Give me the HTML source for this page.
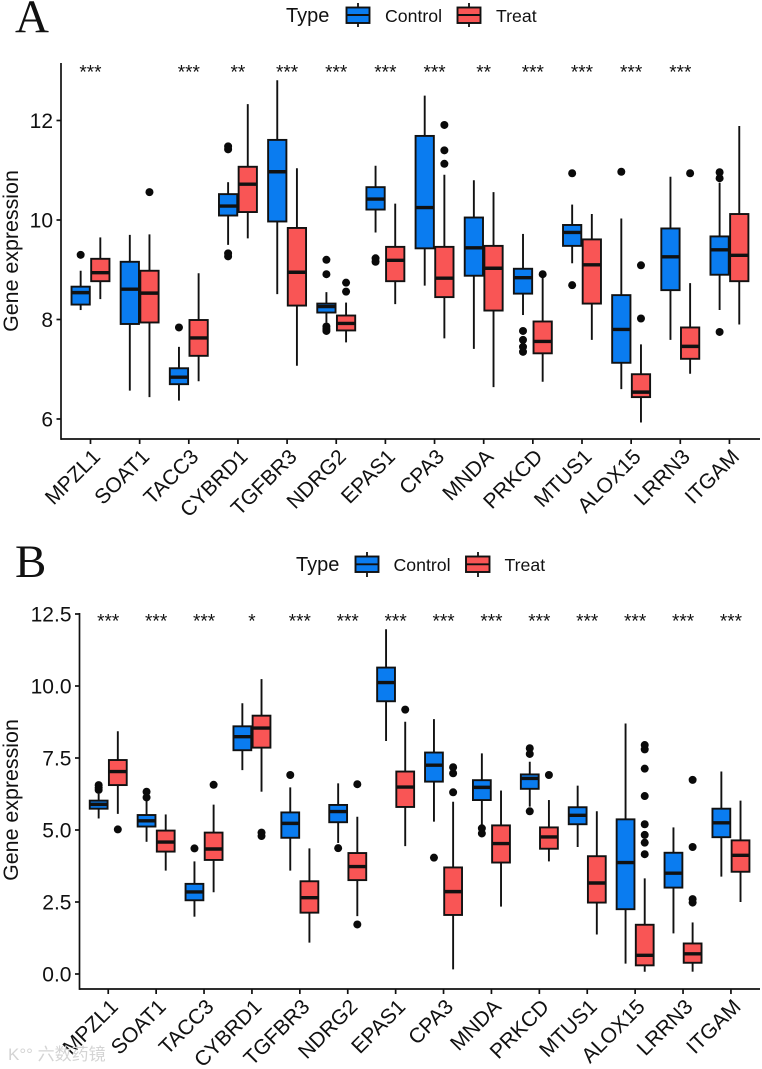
<!DOCTYPE html>
<html lang="en">
<head>
<meta charset="utf-8">
<title>Gene expression boxplots</title>
<style>
html,body{margin:0;padding:0;background:#fff;}
#figure{display:block;width:762px;height:1069px;font-family:"Liberation Sans",sans-serif;}
text{font-family:"Liberation Sans","Noto Sans CJK SC",sans-serif;fill:#111;}
</style>
</head>
<body>
<svg id="figure" xmlns="http://www.w3.org/2000/svg" width="762" height="1069" viewBox="0 0 762 1069">
  <text x="15" y="32" style="font-family:'Liberation Serif',serif;font-size:47px;">A</text>
  <text x="15" y="577" style="font-family:'Liberation Serif',serif;font-size:47px;">B</text>

  <g>
    <text x="286" y="22" font-size="20">Type</text>
    <g>
      <line x1="358" x2="358" y1="3" y2="27" stroke="#111" stroke-width="1.8"/>
      <rect x="346.5" y="7.5" width="23" height="15.5" fill="#0A7CF0" stroke="#111" stroke-width="1.9"/>
      <line x1="346.5" x2="369.5" y1="15" y2="15" stroke="#111" stroke-width="1.9"/>
      <text x="385" y="22" font-size="17.7">Control</text>
    </g>
    <g>
      <line x1="469" x2="469" y1="3" y2="27" stroke="#111" stroke-width="1.8"/>
      <rect x="457.5" y="7.5" width="23" height="15.5" fill="#F95555" stroke="#111" stroke-width="1.9"/>
      <line x1="457.5" x2="480.5" y1="15" y2="15" stroke="#111" stroke-width="1.9"/>
      <text x="496" y="22" font-size="17.7">Treat</text>
    </g>
  </g>

  <g>
    <text x="296" y="571" font-size="20">Type</text>
    <g>
      <line x1="367" x2="367" y1="552" y2="577" stroke="#111" stroke-width="1.8"/>
      <rect x="355.5" y="556.5" width="23" height="15.5" fill="#0A7CF0" stroke="#111" stroke-width="1.9"/>
      <line x1="355.5" x2="378.5" y1="564.3" y2="564.3" stroke="#111" stroke-width="1.9"/>
      <text x="393.5" y="571" font-size="17.7">Control</text>
    </g>
    <g>
      <line x1="478" x2="478" y1="552" y2="577" stroke="#111" stroke-width="1.8"/>
      <rect x="466" y="556.5" width="23.5" height="15.5" fill="#F95555" stroke="#111" stroke-width="1.9"/>
      <line x1="466" x2="489.5" y1="564.3" y2="564.3" stroke="#111" stroke-width="1.9"/>
      <text x="504.5" y="571" font-size="17.7">Treat</text>
    </g>
  </g>

  <g id="panel-a"></g>
  <g id="panel-b"></g>

  <text x="8" y="1060" font-size="17" style="fill:#d4d4d4;">K°° 六数药镜</text>
</svg>

<script>
// Shared category axis
const genes = ["MPZL1","SOAT1","TACC3","CYBRD1","TGFBR3","NDRG2","EPAS1","CPA3","MNDA","PRKCD","MTUS1","ALOX15","LRRN3","ITGAM"];

// Panel A: [whisker low, Q1, median, Q3, whisker high] per gene
const panelAControl = [
  [8.19,8.30,8.54,8.66,8.98],[6.57,7.91,8.61,9.16,9.70],[6.37,6.70,6.84,7.02,7.45],
  [9.50,10.09,10.28,10.52,10.76],[8.51,9.97,10.97,11.61,12.81],[7.94,8.14,8.26,8.32,8.55],
  [9.75,10.21,10.42,10.66,11.09],[8.68,9.43,10.25,11.69,12.50],[7.41,8.88,9.44,10.05,10.80],
  [8.09,8.52,8.84,9.02,9.72],[9.13,9.48,9.75,9.90,10.31],[6.60,7.13,7.80,8.49,10.03],
  [7.59,8.59,9.26,9.83,10.87],[8.19,8.90,9.40,9.67,10.75]
];
const panelATreat = [
  [8.41,8.77,8.94,9.22,9.65],[6.44,7.94,8.53,8.98,9.71],[6.76,7.27,7.63,7.99,8.93],
  [9.63,10.16,10.72,11.07,12.33],[7.07,8.28,8.95,9.84,11.04],[7.54,7.78,7.92,8.08,8.34],
  [8.31,8.77,9.19,9.46,10.33],[7.62,8.45,8.83,9.46,10.91],[6.64,8.18,9.03,9.48,10.56],
  [6.75,7.32,7.56,7.96,8.88],[7.59,8.32,9.10,9.61,10.12],[5.93,6.44,6.54,6.90,7.50],
  [6.91,7.21,7.46,7.84,8.73],[7.90,8.77,9.29,10.12,11.89]
];
const panelAControlOutliers = [
  [9.30],[],[7.84],[11.48,11.42,9.33,9.27],[],[9.20,8.91,7.86,7.81,7.77],
  [9.23,9.16],[],[],[7.77,7.59,7.45,7.35],[10.94,8.69],[10.97],[],[10.96,10.84,7.75]
];
const panelATreatOutliers = [
  [],[10.56],[],[],[],[8.74,8.56],[],[11.91,11.40,11.13],[],[8.91],[],[9.09,8.02],[10.94],[]
];
const panelASignificance = ["***","","***","**","***","***","***","***","**","***","***","***","***",""];
const panelATicks = [6,8,10,12];
const panelATickLabels = ["6","8","10","12"];

// Panel B: [whisker low, Q1, median, Q3, whisker high] per gene
const panelBControl = [
  [5.40,5.74,5.89,6.02,6.25],[4.59,5.12,5.32,5.52,6.04],[1.99,2.56,2.85,3.13,3.91],
  [7.08,7.77,8.24,8.60,9.40],[3.59,4.73,5.23,5.61,6.48],[4.55,5.27,5.64,5.87,6.62],
  [8.09,9.47,10.12,10.64,11.97],[5.29,6.68,7.25,7.69,8.85],[5.11,6.04,6.48,6.73,7.66],
  [5.81,6.43,6.79,6.93,7.37],[4.41,5.20,5.51,5.79,6.54],[0.36,2.25,3.87,5.37,8.70],
  [1.41,3.00,3.50,4.21,5.09],[3.38,4.75,5.25,5.74,7.03]
];
const panelBTreat = [
  [5.56,6.56,7.03,7.43,8.43],[3.59,4.25,4.58,4.98,5.54],[2.84,3.96,4.34,4.91,5.88],
  [6.33,7.86,8.54,8.97,10.24],[1.09,2.13,2.65,3.22,4.36],[2.01,3.26,3.73,4.20,5.46],
  [4.44,5.80,6.49,7.03,8.76],[0.16,2.05,2.86,3.70,5.98],[2.34,3.87,4.53,5.16,6.37],
  [3.91,4.35,4.76,5.09,6.04],[1.37,2.48,3.16,4.09,5.65],[0.08,0.30,0.65,1.71,3.32],
  [0.08,0.39,0.70,1.06,1.79],[2.50,3.55,4.12,4.64,6.02]
];
const panelBControlOutliers = [
  [6.56,6.47,6.39],[6.33,6.13],[4.36],[],[6.91],[4.37],[],[4.04],[5.06,4.88],[7.84,7.64,5.65],[],[],[],[]
];
const panelBTreatOutliers = [
  [5.02],[],[6.57],[4.91,4.79],[],[6.59,1.72],[9.18],[7.18,6.97,6.31],[],[6.91],[],
  [7.95,7.80,7.13,6.18,5.20,4.83,4.56,4.16],[6.74,4.41,2.60,2.48],[]
];
const panelBSignificance = ["***","***","***","*","***","***","***","***","***","***","***","***","***","***"];
const panelBTicks = [0,2.5,5,7.5,10,12.5];
const panelBTickLabels = ["0.0","2.5","5.0","7.5","10.0","12.5"];

const SVG_NS = "http://www.w3.org/2000/svg";
const CONTROL_FILL = "#0A7CF0";
const TREAT_FILL = "#F95555";
const INK = "#111";

function make(parent, tag, attrs, text) {
  const el = document.createElementNS(SVG_NS, tag);
  for (const k in attrs) el.setAttribute(k, attrs[k]);
  if (text !== undefined) el.textContent = text;
  parent.appendChild(el);
  return el;
}

function drawBox(parent, cx, halfWidth, stats, outliers, fill, y, name) {
  const box = make(parent, "g", {});
  
  
  const low = stats[0], q1 = stats[1], med = stats[2], q3 = stats[3], high = stats[4];
  make(box, "line", {x1:cx, x2:cx, y1:y(high), y2:y(low), stroke:INK, "stroke-width":1.9});
  make(box, "rect", {x:cx-halfWidth, y:y(q3), width:halfWidth*2, height:y(q1)-y(q3), fill:fill, stroke:INK, "stroke-width":1.9});
  make(box, "line", {x1:cx-halfWidth, x2:cx+halfWidth, y1:y(med), y2:y(med), stroke:INK, "stroke-width":3.4});
  outliers.forEach(function (v) {
    const dot = make(box, "circle", {cx:cx, cy:y(v), r:4, fill:"#0a0a0a"});
    
    
  });
}

function drawPanel(rootId, g, control, treat, controlOut, treatOut, stars, ticks, tickLabels) {
  const root = document.getElementById(rootId);
  const step = g.step;
  const xScale = function (i) { return g.left + (i + 0.6) * step; };
  const yScale = function (v) { return g.zeroY - (v - g.zeroV) * g.unit; };

  genes.forEach(function (gene, i) {
    const x = xScale(i);
    drawBox(root, x - 0.2 * step, 0.186 * step, control[i], controlOut[i], CONTROL_FILL, yScale, "box-control-" + gene.toLowerCase());
    drawBox(root, x + 0.2 * step, 0.186 * step, treat[i], treatOut[i], TREAT_FILL, yScale, "box-treat-" + gene.toLowerCase());
    if (stars[i]) {
      const s = make(root, "text", {x:x, y:g.starY, "font-size":19, "text-anchor":"middle"}, stars[i]);
      
      
    }
    make(root, "line", {x1:x, x2:x, y1:g.bottom, y2:g.bottom+5, stroke:INK, "stroke-width":1.7});
    const label = make(root, "text", {
      "font-size":g.xFont, "text-anchor":"end",
      transform:"translate(" + (x + g.labelDx) + "," + (g.bottom + g.labelDy) + ") rotate(-45)"
    }, gene);
    
    
  });

  ticks.forEach(function (v, i) {
    const y = yScale(v);
    make(root, "line", {x1:g.left-4.5, x2:g.left, y1:y, y2:y, stroke:INK, "stroke-width":1.7});
    const t = make(root, "text", {x:g.left-8, y:y+7.5, "font-size":21, "text-anchor":"end"}, tickLabels[i]);
    
    
  });

  const yAxis = make(root, "line", {x1:g.left, x2:g.left, y1:g.top, y2:g.bottom+0.85, stroke:INK, "stroke-width":1.7});
  
  
  const xAxis = make(root, "line", {x1:g.left, x2:760, y1:g.bottom, y2:g.bottom, stroke:INK, "stroke-width":1.7});
  
  
  const title = make(root, "text", {
    "font-size":21.4, "text-anchor":"middle",
    transform:"translate(18," + g.titleY + ") rotate(-90)"
  }, "Gene expression");
  
  
}

drawPanel("panel-a",
  {left:61, top:63, bottom:439, step:49.15, zeroY:419, zeroV:6, unit:49.75, starY:78.5, titleY:251, xFont:21, labelDx:11, labelDy:19},
  panelAControl, panelATreat, panelAControlOutliers, panelATreatOutliers, panelASignificance, panelATicks, panelATickLabels);
drawPanel("panel-b",
  {left:79.5, top:613, bottom:989, step:47.9, zeroY:974, zeroV:0, unit:28.8, starY:627.5, titleY:800, xFont:21, labelDx:11, labelDy:19},
  panelBControl, panelBTreat, panelBControlOutliers, panelBTreatOutliers, panelBSignificance, panelBTicks, panelBTickLabels);
</script>
</body>
</html>
